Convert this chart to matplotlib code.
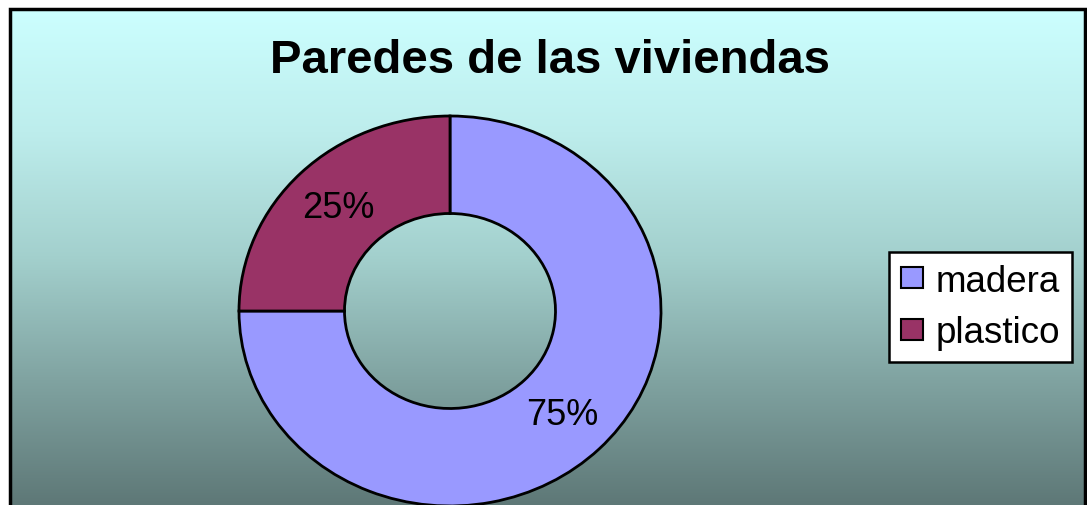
import numpy as np
import matplotlib
matplotlib.use("Agg")
import matplotlib.pyplot as plt
from matplotlib.patches import Rectangle, Patch
from matplotlib.colors import LinearSegmentedColormap

plt.rcParams['font.family'] = ['Liberation Sans', 'DejaVu Sans']

title = "Paredes de las viviendas"
categories = ["madera", "plastico"]
values = [75, 25]
colors = ["#9999FF", "#993366"]

W, H = 1087, 506
fig = plt.figure(figsize=(W / 100, H / 100), dpi=100)
fig.patch.set_facecolor("white")

# gradient background inside chart border
bg = fig.add_axes([9 / W, 0, (1085 - 9) / W, (H - 9) / H])
cmap = LinearSegmentedColormap.from_list(
    "bg", [(0, "#CCFFFF"), (0.25, "#BDEDEC"), (0.5, "#A3D0CD"), (0.75, "#80A3A1"), (1, "#5E7877")])
grad = np.linspace(0, 1, 256).reshape(-1, 1)
bg.imshow(grad, aspect="auto", cmap=cmap, extent=[0, 1, 0, 1], origin="upper")
bg.set_xlim(0, 1)
bg.set_ylim(0, 1)
bg.axis("off")

# border
fig.patches.append(Rectangle((9.5 / W, -0.05), (1085 - 9.5) / W, (H - 9.5) / H + 0.05,
                             transform=fig.transFigure, fill=False,
                             edgecolor="black", linewidth=2.5, zorder=5))

# donut (stretched horizontally like the reference)
ax = fig.add_axes([239 / W, -1 / H, 422 / W, 390 / H])
ax.patch.set_alpha(0)
wedges, texts, autotexts = ax.pie(
    values, colors=colors, startangle=90, counterclock=False,
    radius=1.0, autopct="%1.0f%%", pctdistance=0.75,
    wedgeprops=dict(width=0.5, edgecolor="black", linewidth=2.0),
    textprops=dict(fontsize=26, color="black"))
ax.set_aspect("auto")
ax.set_xlim(-1, 1)
ax.set_ylim(-1, 1)
ax.axis("off")

fig.text(550 / W, 1 - 61 / H, title, ha="center", va="center",
         fontsize=34, fontweight="bold")

handles = [Patch(facecolor=c, edgecolor="black", linewidth=1.5) for c in colors]
leg = fig.legend(handles, categories, loc="center",
                 bbox_to_anchor=(980.5 / W, 1 - 308 / H),
                 fontsize=26.5, frameon=True, fancybox=False, framealpha=1,
                 edgecolor="black", handlelength=0.6, handleheight=0.5,
                 handletextpad=0.35, borderpad=0.32, labelspacing=0.45,
                 borderaxespad=0)
leg.get_frame().set_linewidth(1.8)

fig.savefig("out.png", dpi=100)
